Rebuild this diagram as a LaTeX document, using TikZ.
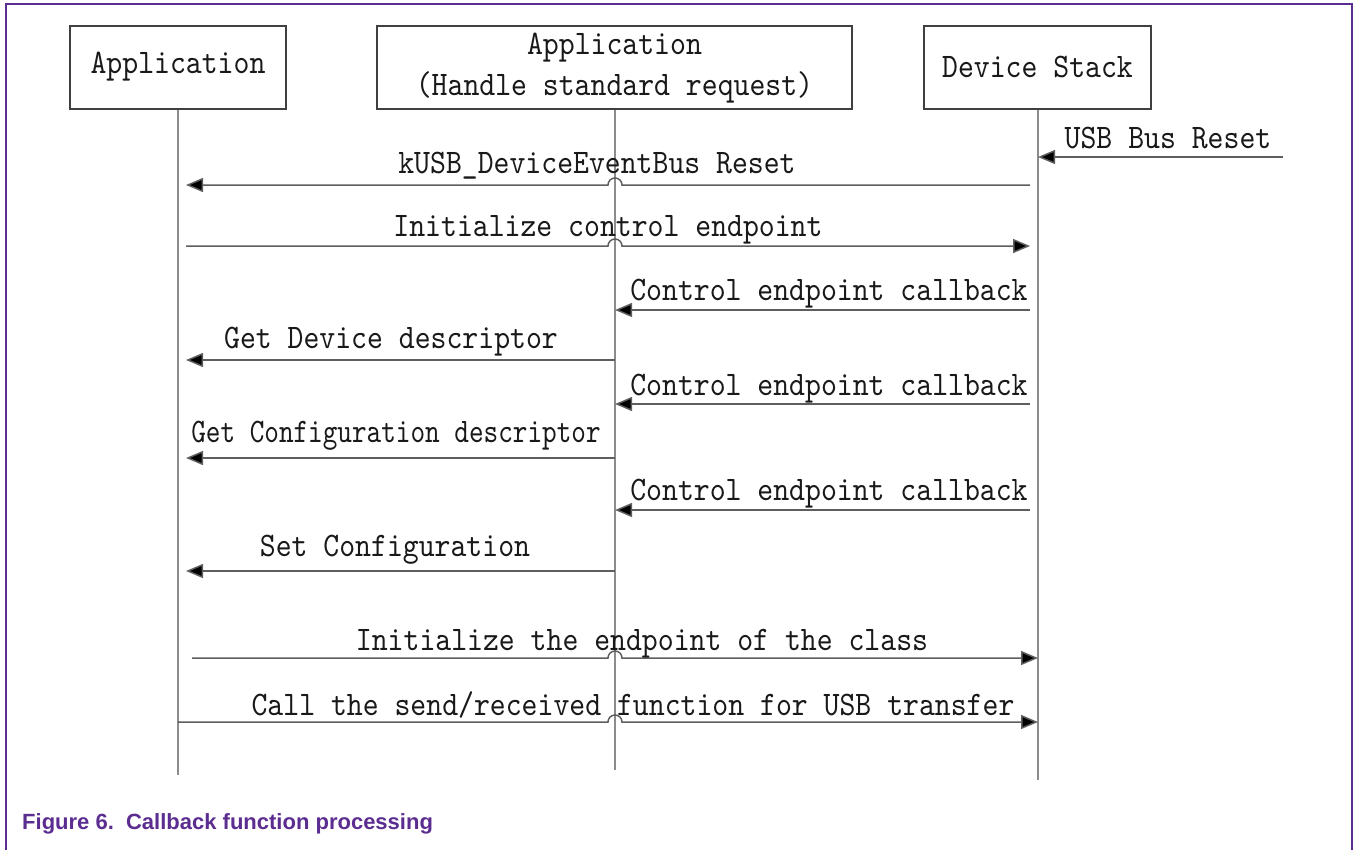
\documentclass[tikz,border=0pt]{standalone}
\usepackage{fontspec}
\usetikzlibrary{arrows.meta}
\newfontfamily\dfont[FakeStretch=0.88]{lmmono10-regular.otf}
\newfontfamily\capfont{Liberation Sans}
\definecolor{nxppurple}{HTML}{5C2D91}
\definecolor{lifegray}{HTML}{8C8C8C}
\definecolor{arrgray}{HTML}{5E5E5E}
\tikzset{
  actor/.style={draw=black!75, line width=1.3pt, fill=white, inner sep=0pt},
  life/.style={draw=lifegray, line width=1.8pt},
  msg/.style={draw=arrgray, line width=1.5pt, -{Triangle[length=17pt,width=14pt,fill=black]}},
  lbl/.style={font=\dfont\fontsize{34.4}{38}\selectfont, anchor=base, inner sep=0pt, text=black!90},
}
\newcommand{\hopR}{arc[start angle=180,end angle=0,radius=7pt]}
\newcommand{\hopL}{arc[start angle=0,end angle=180,radius=7pt]}
\begin{document}
\begin{tikzpicture}[x=1pt,y=-1pt]
\useasboundingbox (0,0) rectangle (1354,849);
% frame
\draw[nxppurple, line width=2.4pt] (6,852) -- (6,4) -- (1352,4) -- (1352,852);
% actors
\node[actor, minimum width=216pt, minimum height=83pt] (a1) at (178,67.5) {};
\node[lbl, anchor=center] (t1) at (178,67) {Application};
\node[actor, minimum width=475pt, minimum height=83pt] (a2) at (614.5,67.5) {};
\node[lbl, anchor=center] (t2a) at (614.5,48) {Application};
\node[lbl, anchor=center] (t2b) at (614.5,87) {(Handle standard request)};
\node[actor, minimum width=227pt, minimum height=83pt] (a3) at (1037.5,67.5) {};
\node[lbl, anchor=center] (t3) at (1037.5,67) {Device Stack};
% lifelines
\coordinate (e1) at (178,775);
\coordinate (e2) at (615,770);
\coordinate (e3) at (1038,780);
\draw[life] (a1.south -| e1) -- (e1);
\draw[life] (a2.south -| e2) -- (e2);
\draw[life] (a3.south -| e3) -- (e3);
% messages
\coordinate (ext) at (1283,157);
\draw[msg] (ext) -- (ext -| e3);
\node[lbl] (m0) at (1168,148) {USB Bus Reset};

\draw[msg] (1030,185) -- (622,185) \hopL -- (186,185);
\node[lbl] (m1) at (597,173) {kUSB\_DeviceEventBus Reset};

\draw[msg] (186,246) -- (608,246) \hopR -- (1030,246);
\node[lbl] (m2) at (608,236) {Initialize control endpoint};

\draw[msg] (1030,310) -- (615,310);
\node[lbl] (m3) at (829,300) {Control endpoint callback};

\draw[msg] (615,360) -- (186,360);
\node[lbl] (m4) at (391,348) {Get Device descriptor};

\draw[msg] (1030,404) -- (615,404);
\node[lbl] (m5) at (829,395) {Control endpoint callback};

\draw[msg] (615,458) -- (186,458);
\node[lbl] (m6) at (396,442) {\scalebox{0.92}[1]{Get Configuration descriptor}};

\draw[msg] (1030,510) -- (615,510);
\node[lbl] (m7) at (829,500) {Control endpoint callback};

\draw[msg] (615,571) -- (186,571);
\node[lbl] (m8) at (395,556) {Set Configuration};

\draw[msg] (192,658) -- (608,658) \hopR -- (1038,658);
\node[lbl] (m9) at (642,650) {Initialize the endpoint of the class};

\draw[msg] (178,722) -- (608,722) \hopR -- (1038,722);
\node[lbl] (m10) at (633,715) {Call the send/received function for USB transfer};
% caption
\node[font=\capfont\bfseries\fontsize{22}{26}\selectfont, text=nxppurple, anchor=base west, inner sep=0pt] (cap) at (22,829) {Figure 6.\ \ Callback function processing};
\end{tikzpicture}
\end{document}
